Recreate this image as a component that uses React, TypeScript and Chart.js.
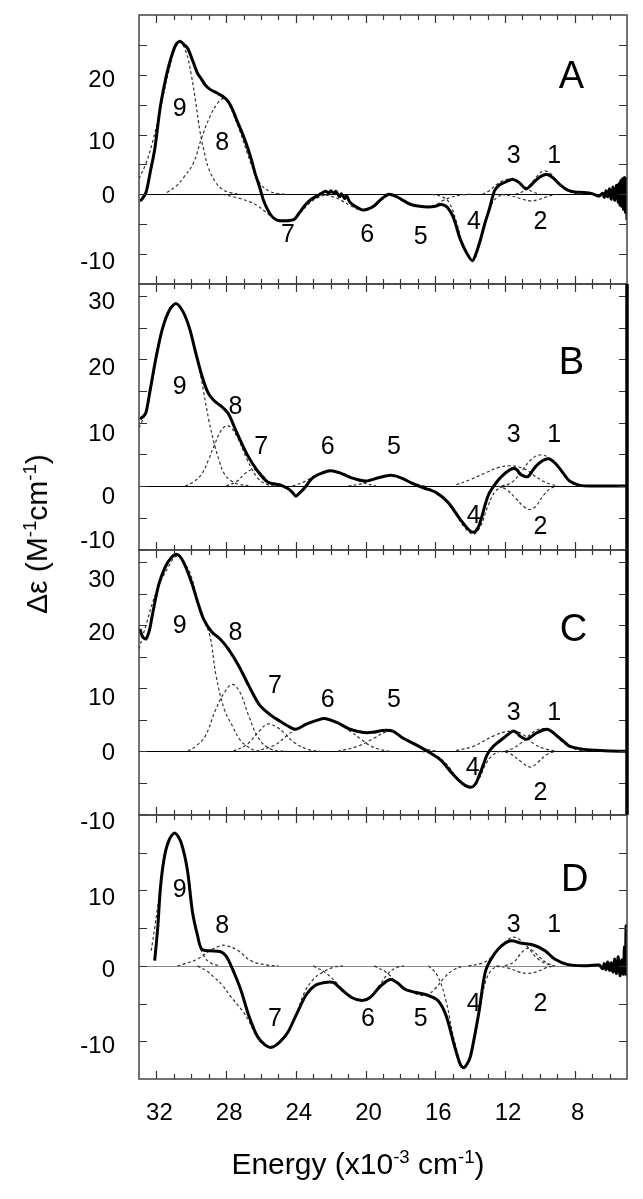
import React, { useEffect, useRef } from 'react';
import { Chart, registerables } from 'chart.js';

Chart.register(...registerables);

type Pt = [number, number];
type Lbl = [string, number, number];

const FONT = '"Liberation Sans", Arial, Helvetica, sans-serif';

// ---------- shared axis values ----------
const xTickLabels = [32, 28, 24, 20, 16, 12, 8];
const xMinorTicks = [32, 31, 30, 29, 28, 27, 26, 25, 24, 23, 22, 21, 20, 19, 18, 17, 16, 15, 14, 13, 12, 11, 10, 9, 8, 7, 6];

// ---------- Panel A ----------
const A_yTicks = [-10, 0, 10, 20];
const A_measured: Pt[] = [
  [32.95, -1.1], [32.85, -0.9], [32.6, 0.3], [32.35, 3.8], [32.1, 7.5], [31.8, 14.2], [31.55, 18.2], [31.3, 21.4],
  [30.94, 24.7], [30.66, 25.6], [30.4, 25.0], [30.2, 24.4], [29.9, 22.2], [29.65, 20.3], [29.4, 19.2], [29.2, 18.3],
  [28.94, 17.6], [28.5, 16.9], [28.2, 16.4], [27.9, 15.6], [27.65, 14.3], [27.4, 12.5], [27.1, 10.4], [26.8, 8.1],
  [26.55, 5.8], [26.35, 3.6], [26.1, 1.4], [25.88, -0.8], [25.65, -2.4], [25.4, -3.6], [25.15, -4.2], [24.93, -4.4],
  [24.5, -4.4], [24.1, -4.2], [23.8, -3.1], [23.5, -1.9], [23.15, -0.9], [22.8, -0.3], [22.5, 0.2], [22.3, 0.5],
  [22.1, 0.2], [22.0, 0.6], [21.8, 0.1], [21.7, 0.5], [21.5, -0.4], [21.4, 0.1], [21.2, -0.7], [21.1, -0.2],
  [20.9, -1.3], [20.6, -2.0], [20.2, -2.6], [19.9, -2.5], [19.5, -1.9], [19.1, -0.8], [18.7, 0], [18.45, -0.1],
  [18.2, -0.4], [17.8, -1.1], [17.4, -1.7], [16.9, -2.0], [16.4, -2.1], [16.0, -2.0], [15.7, -1.7], [15.5, -1.8],
  [15.3, -2.2], [15.0, -3.6], [14.8, -5.3], [14.57, -7.5], [14.2, -9.8], [13.87, -11.1], [13.65, -9.8], [13.4, -7.5],
  [13.15, -4.8], [12.9, -2.5], [12.6, 0.6], [12.35, 1.5], [12.1, 1.9], [11.8, 2.3], [11.55, 2.5], [11.2, 2.0],
  [10.8, 0.9], [10.55, 1.4], [10.33, 2.1], [10.0, 2.9], [9.67, 3.3], [9.4, 3.1], [9.15, 2.5], [8.8, 1.5],
  [8.4, 0.7], [8.0, 0.4], [7.5, 0.3], [7.0, 0.1], [6.6, -0.3], [6.4, 0.2], [6.3, -0.5], [6.2, 0.6], [6.1, -0.4],
  [6.0, 0.9], [5.9, -0.8], [5.8, 1.2], [5.7, -1.0], [5.6, 1.5], [5.5, -1.3], [5.45, 1.8], [5.4, -1.8], [5.35, 2.3],
  [5.3, -2.0], [5.25, 2.6], [5.2, -2.5], [5.15, 2.8], [5.1, -3.0], [5.05, 2.6], [5.0, -4.3],
];
const A_c9: Pt[] = [[33, 2.6], [32.6, 5.2], [32.2, 9], [31.8, 14], [31.3, 20.5], [30.95, 24.2], [30.65, 25.5], [30.3, 23.8], [30.0, 20], [29.75, 15.5], [29.5, 10.5], [29.25, 7], [29.0, 4.3], [28.6, 2], [28.2, 0.8], [27.8, 0.3], [27.2, 0]];
const A_c8: Pt[] = [[31.4, 0.3], [30.9, 1.3], [30.44, 2.8], [29.87, 5.3], [29.4, 9.5], [28.9, 13.2], [28.5, 15.2], [28.2, 16], [27.9, 15.4], [27.6, 13.5], [27.2, 10.5], [26.8, 7], [26.4, 3.8], [26.0, 1.6], [25.5, 0.5], [25, 0.1], [24.5, 0]];
const A_c7: Pt[] = [[28.2, 0], [27.6, -0.4], [27.2, -0.7], [26.6, -1.3], [26.2, -1.9], [25.8, -2.8], [25.4, -3.7], [24.93, -4.4], [24.5, -4.6], [24.1, -4.2], [23.7, -3.0], [23.3, -1.7], [22.9, -0.8], [22.4, -0.2], [21.9, 0]];
const A_c6: Pt[] = [[22.6, 0], [22.0, -0.3], [21.4, -1.0], [20.8, -2.0], [20.2, -2.6], [19.6, -2.0], [19.1, -0.9], [18.6, -0.2], [18.0, 0]];
const A_c5: Pt[] = [[18.9, 0], [18.3, -0.4], [17.7, -1.3], [17.1, -1.9], [16.5, -2.1], [16.0, -1.8], [15.6, -1.1], [15.1, -0.5], [14.5, -0.1], [14.0, 0]];
const A_c4: Pt[] = [[16.2, 0], [15.6, -0.4], [15.2, -1.4], [14.8, -4.5], [14.4, -8.5], [13.87, -11.1], [13.5, -8.8], [13.15, -4.8], [12.8, -1.8], [12.4, -0.4], [12.0, 0]];
const A_c3: Pt[] = [[13.3, 0], [12.9, 0.6], [12.5, 1.6], [12.1, 2.3], [11.6, 2.6], [11.2, 2.1], [10.8, 1.1], [10.4, 0.4], [10.0, 0]];
const A_c2: Pt[] = [[12.2, 0], [11.6, -0.3], [11.0, -0.8], [10.55, -1.1], [10.1, -0.9], [9.6, -0.4], [9.1, 0]];
const A_c1: Pt[] = [[11.4, 0], [10.9, 0.6], [10.5, 1.8], [10.2, 2.9], [9.8, 3.9], [9.4, 3.5], [8.9, 1.8], [8.4, 0.6], [7.9, 0.1], [7.4, 0]];
const A_components = [A_c9, A_c8, A_c7, A_c6, A_c5, A_c4, A_c3, A_c2, A_c1];
const A_labels: Lbl[] = [['9', 30.66, 14.3], ['8', 28.23, 8.5], ['7', 24.46, -6.8], ['6', 19.9, -6.9], ['5', 16.84, -7.1], ['4', 13.78, -4.7], ['3', 11.5, 6.4], ['1', 9.18, 6.4], ['2', 9.96, -4.6]];
const A_letter: Lbl = ['A', 8.19, 19.6];

// ---------- Panel B ----------
const B_yTicks = [-10, 0, 10, 20, 30];
const B_measured: Pt[] = [
  [32.95, 10.6], [32.75, 11.0], [32.6, 11.6], [32.35, 15.3], [32.0, 20.6], [31.65, 24.9], [31.25, 27.8], [30.87, 28.8],
  [30.47, 27.5], [30.1, 24.9], [29.76, 21.2], [29.4, 17.5], [29.05, 14.8], [28.7, 13.5], [28.2, 12.4], [27.87, 11.4],
  [27.4, 8.5], [26.8, 5.0], [26.2, 2.4], [25.6, 0.6], [24.93, 0.2], [24.46, -0.4], [24.2, -1.0], [24.0, -1.6],
  [23.75, -1.0], [23.5, -0.3], [23.04, 1.3], [22.45, 2.1], [22.0, 2.4], [21.4, 2.0], [20.7, 1.2], [19.98, 0.8],
  [19.27, 1.3], [18.56, 1.7], [17.97, 1.3], [17.38, 0.5], [16.68, -0.3], [15.97, -1.0], [15.26, -2.6], [14.56, -5.3],
  [14.08, -6.9], [13.78, -7.3], [13.55, -6.6], [13.38, -5.3], [13.1, -2.6], [12.9, -1.1], [12.43, 0.8], [11.96, 2.1],
  [11.5, 2.8], [11.3, 2.5], [11.14, 1.9], [10.85, 1.5], [10.67, 1.5], [10.45, 2.3], [10.2, 3.2], [9.85, 4.0],
  [9.5, 4.3], [9.2, 3.8], [8.9, 2.9], [8.6, 1.8], [8.3, 0.8], [7.7, 0.1], [7.0, 0], [5.0, 0],
];
const B_c9: Pt[] = [[33, 9.2], [32.6, 11.8], [32.3, 15.6], [32.0, 20.2], [31.65, 24.6], [31.25, 27.6], [30.87, 28.8], [30.47, 27.5], [30.1, 24.9], [29.76, 21.2], [29.5, 18], [29.3, 15], [29.0, 10.5], [28.7, 6.9], [28.4, 4], [28.1, 1.9], [27.7, 0.8], [27.3, 0.3], [26.6, 0]];
const B_c8: Pt[] = [[30.35, 0], [29.9, 0.6], [29.4, 1.9], [29.0, 4.2], [28.7, 6.3], [28.23, 9], [27.87, 9.5], [27.4, 7.9], [26.8, 4.2], [26.2, 1.3], [25.7, 0.3], [25.2, 0]];
const B_c7: Pt[] = [[28.0, 0], [27.4, 0.7], [26.9, 2.0], [26.45, 2.6], [26.0, 2.0], [25.6, 0.7], [25.2, 0.1], [24.8, 0]];
const B_c6: Pt[] = [[24.2, 0], [23.5, 0.7], [22.8, 1.8], [22.0, 2.5], [21.3, 2.0], [20.6, 1.1], [20.0, 0.4], [19.4, 0]];
const B_c5: Pt[] = [[21.0, 0], [20.2, 0.4], [19.3, 1.3], [18.6, 1.7], [18.0, 1.3], [17.3, 0.5], [16.6, 0]];
const B_c4: Pt[] = [[17.0, 0], [16.2, -0.6], [15.5, -2.0], [14.8, -4.6], [14.3, -6.6], [13.8, -7.6], [13.4, -6.3], [13.0, -3.3], [12.6, -1.0], [12.2, -0.2], [11.8, 0]];
const B_c3: Pt[] = [[14.8, 0.2], [14.0, 1.0], [13.1, 2.1], [12.4, 2.9], [11.7, 3.2], [11.2, 3.0], [10.8, 2.6], [10.3, 1.6], [9.84, 0.8], [9.4, 0.3], [9.0, 0]];
const B_c2: Pt[] = [[12.4, 0], [11.9, -0.6], [11.4, -1.9], [10.9, -3.3], [10.55, -3.7], [10.2, -3.1], [9.8, -1.5], [9.4, -0.4], [9.0, 0]];
const B_c1: Pt[] = [[12.2, 0], [11.6, 0.6], [11.0, 2.5], [10.5, 4.2], [10.0, 4.9], [9.5, 4.5], [9.0, 3.1], [8.5, 1.4], [8.0, 0.4], [7.5, 0]];
const B_components = [B_c9, B_c8, B_c7, B_c6, B_c5, B_c4, B_c3, B_c2, B_c1];
const B_labels: Lbl[] = [['9', 30.66, 15.6], ['8', 27.47, 12.4], ['7', 25.99, 6.1], ['6', 22.17, 6.1], ['5', 18.37, 6.1], ['4', 13.8, -4.8], ['3', 11.5, 8.1], ['1', 9.18, 8.1], ['2', 9.96, -6.5]];
const B_letter: Lbl = ['B', 8.19, 19.3];

// ---------- Panel C ----------
const C_yTicks = [-10, 0, 10, 20, 30];
const C_measured: Pt[] = [
  [32.95, 19.4], [32.8, 18.2], [32.6, 17.8], [32.4, 19.2], [32.24, 21.5], [31.88, 26.3], [31.53, 29.0], [31.18, 30.6],
  [30.82, 31.2], [30.47, 30.1], [30.0, 26.9], [29.64, 23.7], [29.3, 21.0], [28.82, 18.9], [28.35, 17.8], [27.87, 16.2],
  [27.29, 13.6], [26.7, 10.4], [26.1, 7.4], [25.52, 5.9], [24.93, 4.8], [24.46, 4.0], [24.0, 3.5], [23.4, 4.3],
  [22.8, 4.9], [22.33, 5.2], [21.6, 4.5], [20.9, 3.5], [20.2, 3.0], [19.6, 3.0], [19.03, 3.3], [18.44, 3.2],
  [17.86, 2.1], [17.15, 1.1], [16.44, 0], [15.73, -1.3], [15.03, -3.5], [14.44, -5.1], [13.97, -5.7], [13.7, -5.2],
  [13.5, -4.0], [13.25, -2.2], [13.02, -0.5], [12.67, 0.8], [12.08, 2.1], [11.54, 3.2], [11.3, 2.9], [11.14, 2.4],
  [10.78, 1.9], [10.5, 2.3], [10.2, 2.9], [9.6, 3.5], [9.3, 3.1], [9.0, 2.4], [8.6, 1.5], [8.3, 0.8], [7.48, 0.3],
  [6.3, 0.1], [5.1, 0], [5.0, 0],
];
const C_c9: Pt[] = [[33, 16.2], [32.6, 20], [32.0, 25.3], [31.3, 29.3], [30.82, 30.9], [30.2, 29], [29.76, 25.3], [29.4, 21.5], [28.94, 18.4], [28.58, 12], [28.1, 6.6], [27.64, 4.0], [27.2, 1.8], [26.8, 0.8], [26.3, 0]];
const C_c8: Pt[] = [[30.2, 0], [29.7, 0.9], [29.2, 2.4], [28.6, 6.6], [28.1, 9.3], [27.64, 10.6], [27.2, 9.3], [26.7, 5.6], [26.1, 1.9], [25.4, 0.3], [24.5, 0]];
const C_c7: Pt[] = [[27.6, 0], [26.8, 1.1], [26.1, 3.2], [25.64, 4.3], [25.2, 4.0], [24.7, 3.0], [24.1, 1.4], [23.3, 0.3], [22.6, 0]];
const C_c6: Pt[] = [[26.3, 0], [25.2, 1.0], [24.46, 2.6], [24.0, 3.5], [23.4, 4.3], [22.33, 5.2], [21.6, 4.5], [20.9, 3.2], [20.3, 2.0], [19.8, 1.0], [19.2, 0.3], [18.6, 0]];
const C_c5: Pt[] = [[21.6, 0], [20.45, 0.8], [19.5, 2.1], [18.9, 3.0], [18.44, 3.2], [17.86, 2.1], [17.15, 1.0], [16.5, 0.3], [15.9, 0]];
const C_c4: Pt[] = [[16.8, 0], [16.0, -0.6], [15.3, -2.2], [14.7, -4.4], [13.97, -5.8], [13.5, -4.4], [13.1, -2.0], [12.7, -0.6], [12.3, 0]];
const C_c3: Pt[] = [[14.8, 0.1], [13.8, 0.8], [12.67, 2.4], [11.7, 3.2], [11.0, 2.7], [10.3, 1.1], [9.6, 0.3], [9.0, 0]];
const C_c2: Pt[] = [[12.3, 0], [11.7, -0.4], [11.1, -1.6], [10.55, -2.5], [10.1, -1.7], [9.6, -0.5], [9.1, 0]];
const C_c1: Pt[] = [[12.0, 0], [11.5, 0.5], [11.0, 1.5], [10.4, 3.0], [9.84, 3.6], [9.3, 3.0], [8.8, 1.7], [8.3, 0.7], [7.8, 0.2], [7.3, 0]];
const C_components = [C_c9, C_c8, C_c7, C_c6, C_c5, C_c4, C_c3, C_c2, C_c1];
const C_labels: Lbl[] = [['9', 30.66, 19.9], ['8', 27.47, 18.7], ['7', 25.2, 10.4], ['6', 22.17, 8.1], ['5', 18.37, 8.1], ['4', 13.85, -2.7], ['3', 11.5, 6.0], ['1', 9.18, 6.0], ['2', 9.96, -6.6]];
const C_letter: Lbl = ['C', 8.07, 19.1];

// ---------- Panel D ----------
const D_yTicks = [-10, 0, 10];
const D_measured: Pt[] = [
  [32.1, 0.7], [31.93, 4.9], [31.76, 10.6], [31.53, 14.6], [31.25, 16.8], [30.94, 17.6], [30.59, 16.4], [30.23, 12.8],
  [29.93, 7.1], [29.64, 4.0], [29.4, 2.2], [28.94, 2.0], [28.35, 1.9], [28.0, 1.3], [27.64, -0.4], [27.17, -3.1],
  [26.7, -6.6], [26.22, -9.3], [25.75, -10.5], [25.4, -10.8], [24.93, -10.1], [24.46, -8.8], [24.0, -6.6], [23.4, -3.8],
  [22.9, -2.6], [22.33, -2.2], [21.86, -2.2], [21.4, -3.1], [20.8, -4.2], [20.2, -4.6], [19.74, -4.2], [19.15, -2.7],
  [18.6, -1.8], [18.2, -2.2], [17.74, -3.1], [17.15, -3.5], [16.44, -3.9], [15.85, -4.6], [15.38, -6.6], [14.9, -10.6],
  [14.56, -13.1], [14.37, -13.5], [14.15, -12.9], [13.97, -11.9], [13.5, -6.2], [13.14, -0.9], [12.8, 0.9], [12.32, 2.4],
  [11.73, 3.3], [11.03, 3.0], [10.3, 2.7], [9.7, 2.0], [9.15, 0.9], [8.44, 0.2], [7.5, 0], [6.6, 0.1], [6.4, -0.4],
  [6.3, 0.3], [6.2, -0.5], [6.1, 0.5], [6.0, -0.6], [5.9, 0.4], [5.8, -0.8], [5.7, 0.9], [5.6, -1.0], [5.5, 1.2],
  [5.4, -1.3], [5.3, 0.8], [5.2, -1.1], [5.15, 2.5], [5.1, -0.8], [5.05, 5.3], [5.02, -1.2], [5.0, 3.5],
];
const D_c9: Pt[] = [[32.3, 2], [32.1, 5], [31.8, 10], [31.5, 14.6], [31.25, 16.8], [30.94, 17.6], [30.6, 16.4], [30.25, 12.8], [29.95, 7.5], [29.6, 3.6], [29.3, 1.4], [28.9, 0.4], [28.4, 0]];
const D_c8: Pt[] = [[30.8, 0], [30.2, 0.4], [29.64, 0.9], [28.94, 2.0], [28.4, 2.6], [28.0, 2.7], [27.3, 2.0], [26.6, 0.7], [25.64, 0.1], [25.0, 0]];
const D_c7: Pt[] = [[29.64, 0], [29.1, -0.7], [28.7, -1.5], [28.2, -2.6], [27.76, -4.0], [27.05, -6.0], [26.7, -7.3], [26.22, -9.5], [25.75, -10.6], [25.4, -10.8], [24.93, -10.1], [24.46, -8.8], [24.0, -6.6], [23.5, -3.5], [23.0, -1.8], [22.57, -1.0], [21.86, -0.2], [21.3, 0]];
const D_c6: Pt[] = [[23.0, 0], [22.3, -0.9], [21.6, -2.4], [21.0, -3.8], [20.3, -4.6], [19.7, -4.1], [19.2, -2.6], [18.7, -1.0], [18.2, -0.2], [17.8, 0]];
const D_c5: Pt[] = [[19.5, 0], [18.8, -0.9], [18.2, -2.2], [17.6, -3.2], [17.0, -3.8], [16.5, -3.9], [16.0, -3.0], [15.5, -1.6], [15.0, -0.6], [14.4, 0]];
const D_c4: Pt[] = [[16.4, 0], [15.9, -1.2], [15.4, -4.5], [14.9, -10], [14.37, -13.5], [13.97, -11.9], [13.5, -6.3], [13.1, -2.0], [12.7, -0.4], [12.2, 0]];
const D_c3: Pt[] = [[14.1, 0], [13.4, 0.3], [12.9, 0.9], [12.2, 2.7], [11.5, 3.8], [10.8, 2.7], [10.1, 0.9], [9.4, 0.1], [9.0, 0]];
const D_c2: Pt[] = [[12.5, 0], [11.8, -0.3], [11.2, -0.8], [10.7, -1.0], [10.2, -0.8], [9.7, -0.3], [9.2, 0]];
const D_c1: Pt[] = [[12.0, 0], [11.5, 0.5], [11.1, 1.6], [10.75, 2.3], [10.4, 2.0], [10.0, 1.1], [9.6, 0.4], [9.2, 0]];
const D_components = [D_c9, D_c8, D_c7, D_c6, D_c5, D_c4, D_c3, D_c2, D_c1];
const D_labels: Lbl[] = [['9', 30.66, 10.0], ['8', 28.23, 5.3], ['7', 25.2, -7.0], ['6', 19.86, -7.0], ['5', 16.84, -7.0], ['4', 13.8, -5.1], ['3', 11.5, 5.4], ['1', 9.18, 5.4], ['2', 9.96, -5.1]];
const D_letter: Lbl = ['D', 8.0, 11.3];

// ---------- layout ----------
interface PanelCfg {
  top: number; bottom: number; yMin: number; yMax: number; yTicks: number[]; labelShift: number[];
  measured: Pt[]; components: Pt[][]; labels: Lbl[]; letter: Lbl;
  thickRight: boolean; zeroColor: string; showX: boolean;
}

const PLOT_LEFT = 139;
const PLOT_RIGHT = 627;
const PAGE_W = 643;
const PAGE_H = 1199;

// labelShift: small vertical nudges (px) of the printed tick labels, as in the original figure
const PANELS: PanelCfg[] = [
  { top: 15, bottom: 284, yMin: -15, yMax: 30, yTicks: A_yTicks, labelShift: [8, 2, 8, 6], measured: A_measured, components: A_components, labels: A_labels, letter: A_letter, thickRight: false, zeroColor: '#000', showX: false },
  { top: 284, bottom: 550, yMin: -10.1, yMax: 31.9, yTicks: B_yTicks, labelShift: [-8, 11, 12, 9, 6], measured: B_measured, components: B_components, labels: B_labels, letter: B_letter, thickRight: true, zeroColor: '#000', showX: false },
  { top: 550, bottom: 815, yMin: -10.1, yMax: 31.9, yTicks: C_yTicks, labelShift: [8, 2, 10, 8, 18], measured: C_measured, components: C_components, labels: C_labels, letter: C_letter, thickRight: true, zeroColor: '#000', showX: false },
  { top: 815, bottom: 1079, yMin: -15, yMax: 20, yTicks: D_yTicks, labelShift: [5, 5, 8], measured: D_measured, components: D_components, labels: D_labels, letter: D_letter, thickRight: false, zeroColor: '#8a8a8a', showX: true },
];

function Panel({ cfg }: { cfg: PanelCfg }) {
  const ref = useRef<HTMLCanvasElement>(null);
  const canvasTop = Math.max(0, cfg.top - 20);
  const padTop = cfg.top - canvasTop;
  const canvasBottom = cfg.showX ? PAGE_H : cfg.bottom + 20;
  const canvasH = canvasBottom - canvasTop;
  const padBottom = cfg.showX ? 0 : 20;
  const xAxisH = cfg.showX ? PAGE_H - cfg.bottom : 0;

  useEffect(() => {
    const canvas = ref.current;
    if (!canvas) return;
    const toXY = (pts: Pt[]) => pts.map(([x, y]) => ({ x, y }));
    const datasets: any[] = [
      { data: toXY(cfg.measured), borderColor: '#000', borderWidth: 3, pointRadius: 0, tension: 0.3, fill: false },
      ...cfg.components.map((c) => ({
        data: toXY(c), borderColor: '#333', borderWidth: 1.2, borderDash: [3, 2.5], pointRadius: 0, tension: 0.4, fill: false,
      })),
    ];

    const framePlugin = {
      id: 'frame',
      beforeDatasetsDraw(chart: any) {
        const { ctx, chartArea: a, scales } = chart;
        const y0 = Math.round(scales.y.getPixelForValue(0)) + 0.5;
        ctx.save();
        ctx.strokeStyle = cfg.zeroColor;
        ctx.lineWidth = 1;
        ctx.beginPath();
        ctx.moveTo(a.left, y0);
        ctx.lineTo(a.right, y0);
        ctx.stroke();
        ctx.restore();
      },
      afterDatasetsDraw(chart: any) {
        const { ctx, chartArea: a, scales } = chart;
        const xs = scales.x;
        const ys = scales.y;
        ctx.save();
        ctx.strokeStyle = '#333';
        ctx.lineWidth = 1.2;
        ctx.beginPath();
        for (const k of xMinorTicks) {
          const px = Math.round(xs.getPixelForValue(k)) + 0.5;
          const len = k % 4 === 0 ? 8 : 5;
          ctx.moveTo(px, a.top);
          ctx.lineTo(px, a.top + len);
          ctx.moveTo(px, a.bottom);
          ctx.lineTo(px, a.bottom - len);
        }
        for (let v = Math.ceil(cfg.yMin / 5) * 5; v < cfg.yMax; v += 5) {
          if (v <= cfg.yMin) continue;
          const py = Math.round(ys.getPixelForValue(v)) + 0.5;
          ctx.moveTo(a.left, py);
          ctx.lineTo(a.left + 8, py);
          ctx.moveTo(a.right, py);
          ctx.lineTo(a.right - 8, py);
        }
        ctx.stroke();
        ctx.strokeStyle = '#444';
        ctx.lineWidth = 1.5;
        ctx.strokeRect(a.left, a.top, a.right - a.left, a.bottom - a.top);
        if (cfg.thickRight) {
          ctx.strokeStyle = '#000';
          ctx.lineWidth = 3.5;
          ctx.beginPath();
          ctx.moveTo(a.right, a.top);
          ctx.lineTo(a.right, a.bottom);
          ctx.stroke();
        }
        ctx.fillStyle = '#000';
        ctx.textAlign = 'center';
        ctx.textBaseline = 'middle';
        ctx.font = `25px ${FONT}`;
        for (const [t, ex, ev] of cfg.labels) {
          ctx.fillText(t, xs.getPixelForValue(ex), ys.getPixelForValue(ev));
        }
        ctx.font = `38px ${FONT}`;
        const [lt, lx, lv] = cfg.letter;
        ctx.fillText(lt, xs.getPixelForValue(lx), ys.getPixelForValue(lv));
        ctx.restore();
      },
    };

    const shiftAt = (i: number) => cfg.labelShift[i] || 0;

    const chart = new Chart(canvas, {
      type: 'line',
      data: { datasets },
      options: {
        animation: false,
        responsive: false,
        maintainAspectRatio: false,
        events: [],
        layout: { padding: { top: padTop, bottom: padBottom, left: 0, right: PAGE_W - PLOT_RIGHT } },
        plugins: { legend: { display: false }, tooltip: { enabled: false } },
        scales: {
          x: {
            type: 'linear',
            reverse: true,
            min: 5,
            max: 33,
            display: cfg.showX,
            grid: { display: false },
            border: { display: false },
            ticks: { font: { family: FONT, size: 24 }, color: '#000', padding: 12, labelOffset: 3, maxRotation: 0, autoSkip: false },
            afterBuildTicks: (s: any) => { s.ticks = xTickLabels.map((v) => ({ value: v })); },
            afterFit: (s: any) => { s.height = xAxisH; s.paddingLeft = 0; s.paddingRight = 0; },
          },
          y: {
            type: 'linear',
            min: cfg.yMin,
            max: cfg.yMax,
            grid: { display: false },
            border: { display: false },
            ticks: {
              color: '#000',
              padding: 16,
              autoSkip: false,
              font: (c: any) => {
                const s = Math.abs(shiftAt(c.index));
                return { family: FONT, size: 24, lineHeight: s ? `${2 * s}px` : 1.2 };
              },
              callback: (value: any, index: number) => {
                const s = shiftAt(index);
                const t = String(value);
                if (!s) return t;
                return s > 0 ? ['', t] : [t, ''];
              },
            },
            afterBuildTicks: (s: any) => { s.ticks = cfg.yTicks.map((v) => ({ value: v })); },
            afterFit: (s: any) => { s.width = PLOT_LEFT; s.paddingTop = 0; s.paddingBottom = 0; },
          },
        },
      } as any,
      plugins: [framePlugin],
    });
    return () => chart.destroy();
  }, [cfg]);

  return (
    <canvas
      ref={ref}
      width={PAGE_W}
      height={canvasH}
      style={{ position: 'absolute', left: 0, top: canvasTop, width: PAGE_W, height: canvasH, display: 'block' }}
    />
  );
}

const supStyle: React.CSSProperties = { fontSize: '0.62em', position: 'relative', top: '-0.6em' };

export default function App() {
  return (
    <div style={{ position: 'absolute', left: 0, top: 0, width: PAGE_W, height: PAGE_H, background: '#fff', overflow: 'hidden' }}>
      {PANELS.map((p, i) => <Panel key={i} cfg={p} />)}
      <div
        style={{
          position: 'absolute', left: 37, top: 534, transform: 'translate(-50%, -50%) rotate(-90deg)',
          whiteSpace: 'nowrap', fontFamily: FONT, fontSize: 30, color: '#000', lineHeight: 1,
        }}
      >
        Δε (M<span style={supStyle}>-1</span>cm<span style={supStyle}>-1</span>)
      </div>
      <div
        style={{
          position: 'absolute', left: 358, top: 1164, transform: 'translate(-50%, -50%)',
          whiteSpace: 'nowrap', fontFamily: FONT, fontSize: 30, color: '#000', lineHeight: 1,
        }}
      >
        Energy (x10<span style={supStyle}>-3</span> cm<span style={supStyle}>-1</span>)
      </div>
    </div>
  );
}
